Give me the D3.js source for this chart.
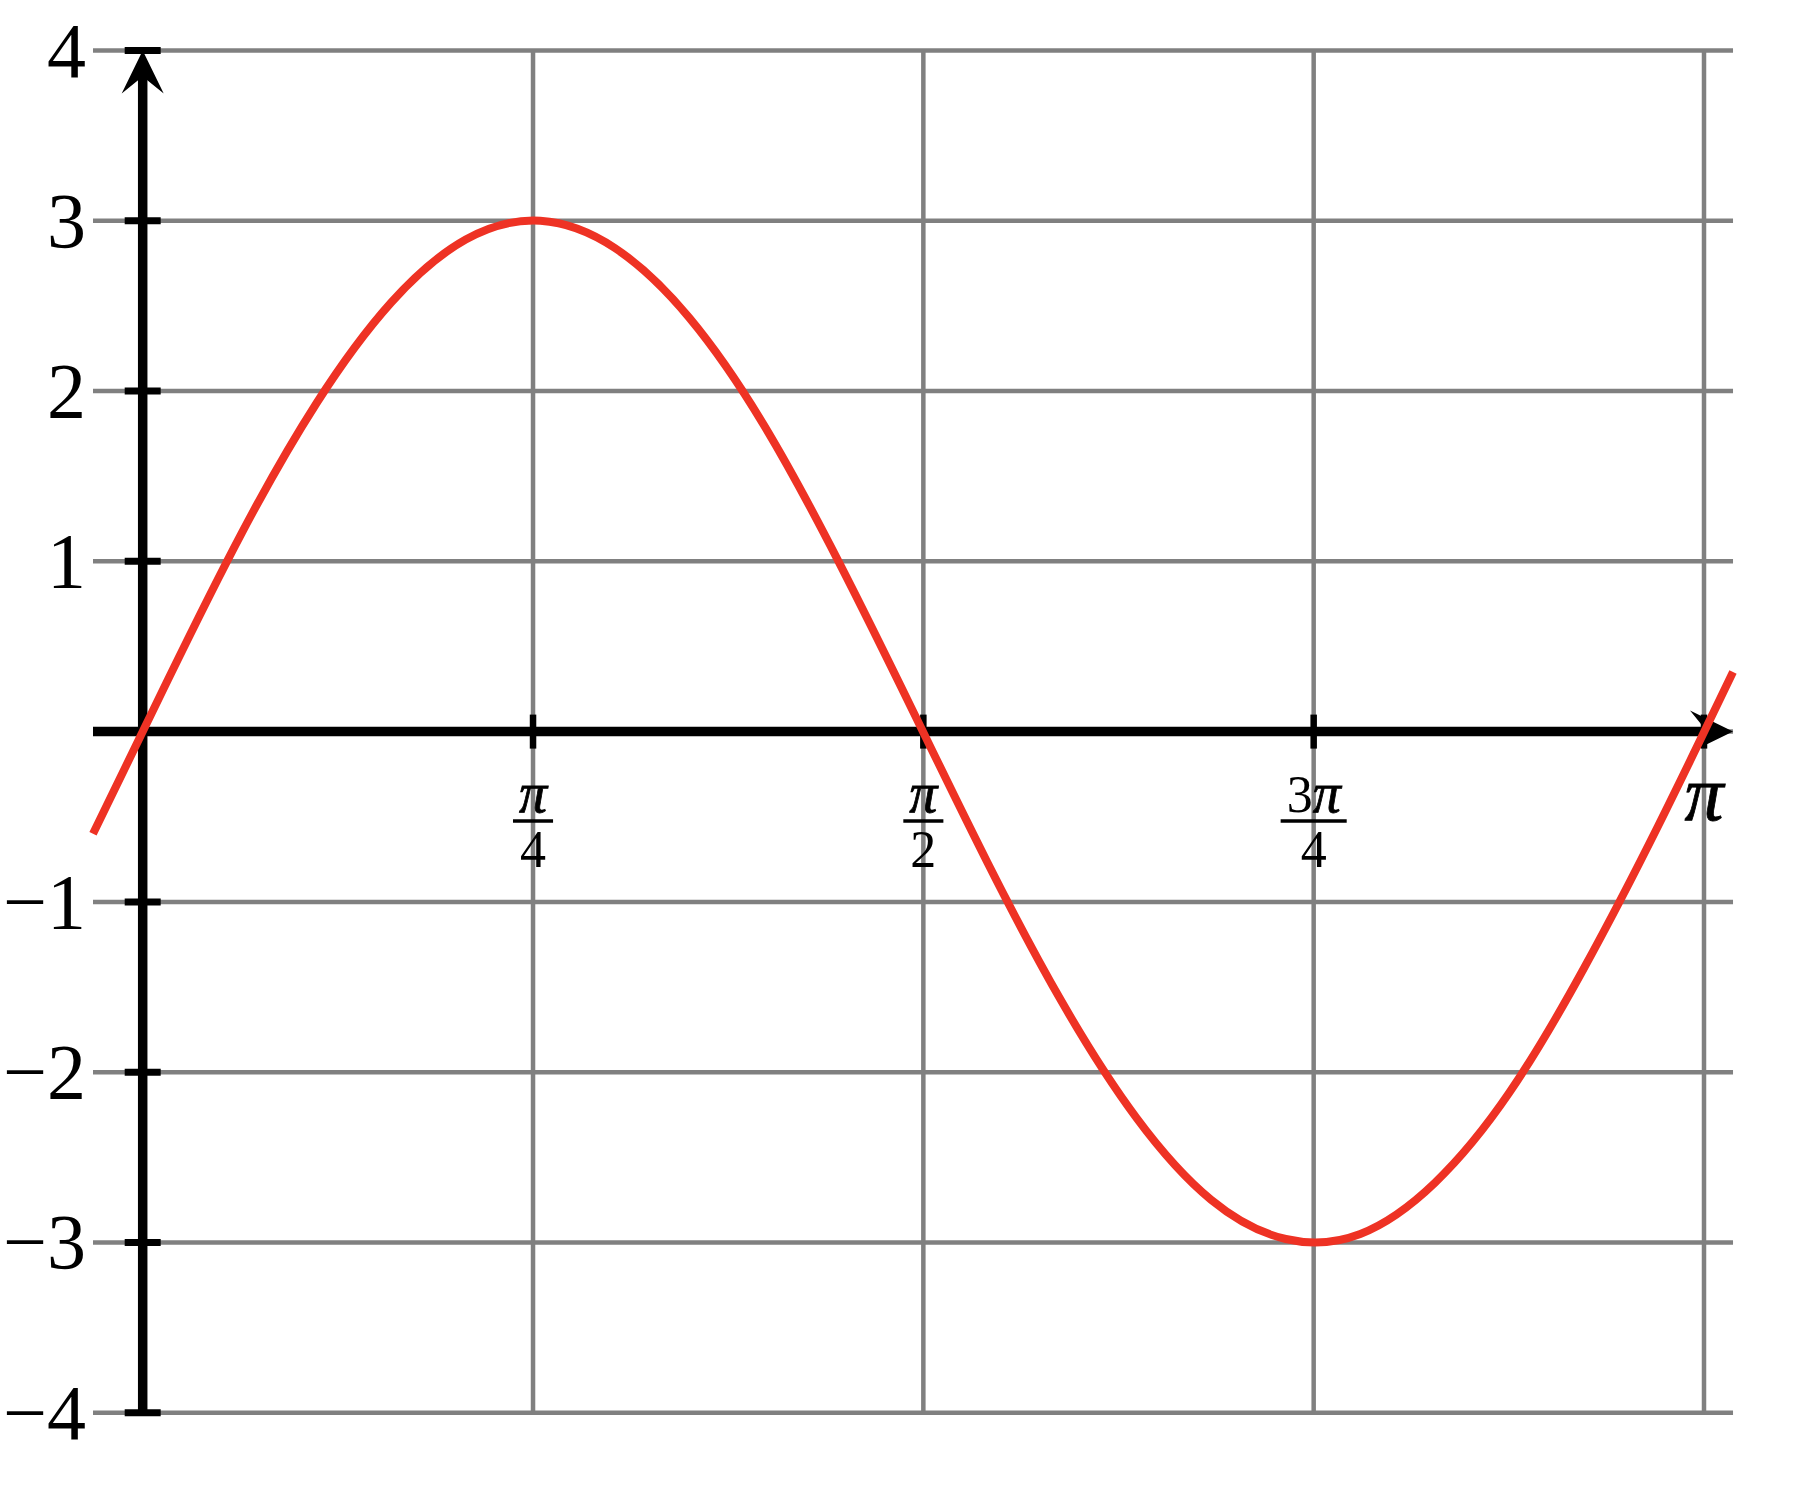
<!DOCTYPE html>
<meta charset="utf-8">
<script src="https://d3js.org/d3.v7.min.js"></script>
<style>
  body { margin: 0; background: #fff; }
  text { font-family: "Liberation Serif", "DejaVu Serif", serif; fill: #000; }
  .pi { font-style: italic; stroke: #000; stroke-width: 0.8px; }
</style>
<div id="my_dataviz"></div>
<script>

  var curveX = [-0.1, 0.05, 0.2, 0.35, 0.5, 0.65, 0.8, 0.95, 1.1, 1.25, 1.4, 1.55,
    1.7, 1.85, 2.0, 2.15, 2.3, 2.45, 2.6, 2.75, 2.9, 3.05, 3.2];
  var curveY = [-0.6, 0.3, 1.17, 1.93, 2.52, 2.89, 3.0, 2.84, 2.43, 1.8, 1.0, 0.12,
    -0.77, -1.59, -2.27, -2.75, -2.98, -2.95, -2.65, -2.12, -1.39, -0.55, 0.35];

  // axis / grid extents and ticks
  var xExtent = [-0.1, 3.2];
  var yExtent = [-4, 4];
  var xTicks = [Math.PI / 4, Math.PI / 2, 3 * Math.PI / 4, Math.PI];
  var xTickNum = ["π", "π", "3π", "π"];
  var xTickDen = ["4", "2", "4", ""];
  var yTicks = [-4, -3, -2, -1, 1, 2, 3, 4];
  var yTickLabels = ["−4", "−3", "−2", "−1", "1", "2", "3", "4"];
  var gridX = [Math.PI / 4, Math.PI / 2, 3 * Math.PI / 4, Math.PI];
  var gridY = [-4, -3, -2, -1, 0, 1, 2, 3, 4];

  var W = 1810, H = 1486;

  var svg = d3.select("#my_dataviz")
    .append("svg")
    .attr("width", W)
    .attr("height", H);

  svg.append("rect").attr("width", W).attr("height", H).attr("fill", "#fff");

  // x: 0 -> 142.7px, pi -> 1704px ; y: 4 -> 50.5px, -4 -> 1412.7px
  var x = d3.scaleLinear().domain([0, Math.PI]).range([142.7, 1704]);
  var y = d3.scaleLinear().domain([-4, 4]).range([1412.7, 50.5]);

  // grid
  var grid = svg.append("g").attr("stroke", "#808080").attr("stroke-width", 4.5);
  grid.selectAll(".gh").data(gridY).enter().append("line")
    .attr("x1", x(xExtent[0])).attr("x2", x(xExtent[1]))
    .attr("y1", function (d) { return y(d); }).attr("y2", function (d) { return y(d); });
  grid.selectAll(".gv").data(gridX).enter().append("line")
    .attr("y1", y(yExtent[0])).attr("y2", y(yExtent[1]))
    .attr("x1", function (d) { return x(d); }).attr("x2", function (d) { return x(d); });

  // axes
  var axis = svg.append("g");
  var arrLen = 43, arrHalf = 21, arrNotch = 26;
  var ax0 = x(xExtent[0]), ax1 = x(xExtent[1]), ay0 = y(0);
  axis.append("line")
    .attr("x1", ax0).attr("x2", ax1 - arrNotch + 2)
    .attr("y1", ay0).attr("y2", ay0)
    .attr("stroke", "#000").attr("stroke-width", 9.5);
  var vx = x(0), vy0 = y(yExtent[0]), vy1 = y(yExtent[1]);
  axis.append("line")
    .attr("x1", vx).attr("x2", vx)
    .attr("y1", vy0).attr("y2", vy1 + arrNotch - 2)
    .attr("stroke", "#000").attr("stroke-width", 9.5);

  // ticks
  axis.selectAll(".ty").data(yTicks).enter().append("line")
    .attr("x1", vx - 18).attr("x2", vx + 18)
    .attr("y1", function (d) { return y(d); }).attr("y2", function (d) { return y(d); })
    .attr("stroke", "#000").attr("stroke-width", 7);
  axis.selectAll(".tx").data(xTicks).enter().append("line")
    .attr("y1", ay0 - 17).attr("y2", ay0 + 17)
    .attr("x1", function (d) { return x(d); }).attr("x2", function (d) { return x(d); })
    .attr("stroke", "#000").attr("stroke-width", 6.5);

  // arrow heads
  axis.append("path")
    .attr("d", "M" + ax1 + "," + ay0 +
      "L" + (ax1 - arrLen) + "," + (ay0 - arrHalf) +
      "L" + (ax1 - arrNotch) + "," + ay0 +
      "L" + (ax1 - arrLen) + "," + (ay0 + arrHalf) + "Z")
    .attr("fill", "#000");
  axis.append("path")
    .attr("d", "M" + vx + "," + vy1 +
      "L" + (vx - arrHalf) + "," + (vy1 + arrLen) +
      "L" + vx + "," + (vy1 + arrNotch) +
      "L" + (vx + arrHalf) + "," + (vy1 + arrLen) + "Z")
    .attr("fill", "#000");

  // y tick labels
  svg.append("g").selectAll("text").data(yTicks).enter().append("text")
    .attr("x", 86)
    .attr("y", function (d) { return y(d) + 26; })
    .attr("text-anchor", "end")
    .attr("font-size", 78)
    .text(function (d, i) { return yTickLabels[i]; });

  // x tick labels (fractions)
  var xl = svg.append("g");
  xTicks.forEach(function (t, i) {
    var cx = x(t);
    if (xTickDen[i] === "") {
      xl.append("text")
        .attr("class", "pi")
        .attr("x", cx).attr("y", 820)
        .attr("text-anchor", "middle")
        .attr("font-size", 78)
        .text(xTickNum[i]);
      return;
    }
    var num = xl.append("text")
      .attr("x", cx).attr("y", 812)
      .attr("text-anchor", "middle")
      .attr("font-size", 52);
    var s = xTickNum[i];
    if (s.length > 1) num.append("tspan").text(s.slice(0, -1));
    num.append("tspan").attr("class", "pi").attr("font-size", 56).text(s.slice(-1));
    var den = xl.append("text")
      .attr("x", cx).attr("y", 867)
      .attr("text-anchor", "middle")
      .attr("font-size", 52)
      .text(xTickDen[i]);
    var w = Math.max(num.node().getComputedTextLength(), den.node().getComputedTextLength()) + 12;
    xl.append("line")
      .attr("x1", cx - w / 2).attr("x2", cx + w / 2)
      .attr("y1", 821).attr("y2", 821)
      .attr("stroke", "#000").attr("stroke-width", 3.5);
  });

  // the red curve
  var pts = curveX.map(function (d, i) { return [d, curveY[i]]; });
  var line = d3.line()
    .x(function (d) { return x(d[0]); })
    .y(function (d) { return y(d[1]); })
    .curve(d3.curveNatural);
  svg.append("path")
    .datum(pts)
    .attr("fill", "none")
    .attr("stroke", "#EE3224")
    .attr("stroke-width", 8)
    .attr("d", line);

</script>
